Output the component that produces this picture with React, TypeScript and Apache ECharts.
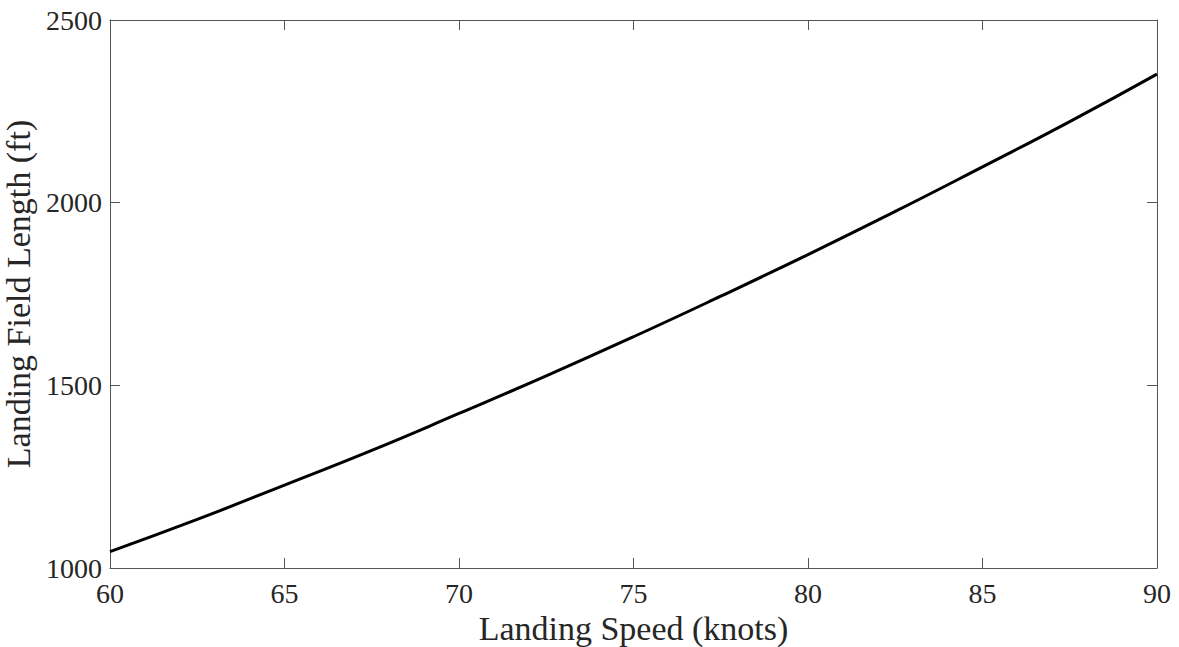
import React, { useEffect, useRef } from "react";
import * as echarts from "echarts";

const speeds = [60, 62.5, 65, 67.5, 70, 72.5, 75, 77.5, 80, 82.5, 85, 87.5, 90];
const fieldLengths = [1045, 1133, 1227, 1322, 1423, 1526, 1633, 1744, 1858, 1976, 2098, 2222, 2352];
const xTitle = "Landing Speed (knots)";
const yTitle = "Landing Field Length (ft)";

const FONT = "'Liberation Serif', 'DejaVu Serif', serif";
const TEXT = "#262626";
const AXIS = "#555555";

export default function App() {
  const ref = useRef<HTMLDivElement>(null);
  useEffect(() => {
    if (!ref.current) return;
    const chart = echarts.init(ref.current, undefined, { renderer: "svg" });
    const axisLine = { show: true, onZero: false, lineStyle: { color: AXIS, width: 1 } };
    const axisTick = { show: true, inside: true, length: 10, lineStyle: { color: AXIS, width: 1 } };
    const plain = (v: number) => String(v);
    chart.setOption({
      animation: false,
      backgroundColor: "#ffffff",
      grid: { left: 110, right: 22, top: 20, bottom: 79, containLabel: false, outerBoundsMode: "none" },
      xAxis: [
        {
          type: "value",
          min: 60,
          max: 90,
          interval: 5,
          name: xTitle,
          nameLocation: "middle",
          nameGap: 40,
          nameTextStyle: { fontFamily: FONT, fontSize: 34, color: TEXT },
          axisLine,
          axisTick,
          axisLabel: { fontFamily: FONT, fontSize: 28, color: TEXT, margin: 11, formatter: plain },
          splitLine: { show: false },
        },
        {
          type: "value",
          position: "top",
          min: 60,
          max: 90,
          interval: 5,
          axisLine,
          axisTick,
          axisLabel: { show: false },
          splitLine: { show: false },
        },
      ],
      yAxis: [
        {
          type: "value",
          min: 1000,
          max: 2500,
          interval: 500,
          name: yTitle,
          nameLocation: "middle",
          nameGap: 70,
          nameTextStyle: { fontFamily: FONT, fontSize: 34, color: TEXT },
          axisLine,
          axisTick,
          axisLabel: { fontFamily: FONT, fontSize: 28, color: TEXT, margin: 8, formatter: plain },
          splitLine: { show: false },
        },
        {
          type: "value",
          position: "right",
          min: 1000,
          max: 2500,
          interval: 500,
          axisLine,
          axisTick,
          axisLabel: { show: false },
          splitLine: { show: false },
        },
      ],
      series: [
        {
          type: "line",
          data: speeds.map((s, i) => [s, fieldLengths[i]]),
          smooth: true,
          showSymbol: false,
          lineStyle: { color: "#000000", width: 3 },
        },
      ],
    });
    return () => chart.dispose();
  }, []);
  return <div ref={ref} style={{ width: 1179, height: 647, position: "absolute", left: 0, top: 0 }} />;
}
